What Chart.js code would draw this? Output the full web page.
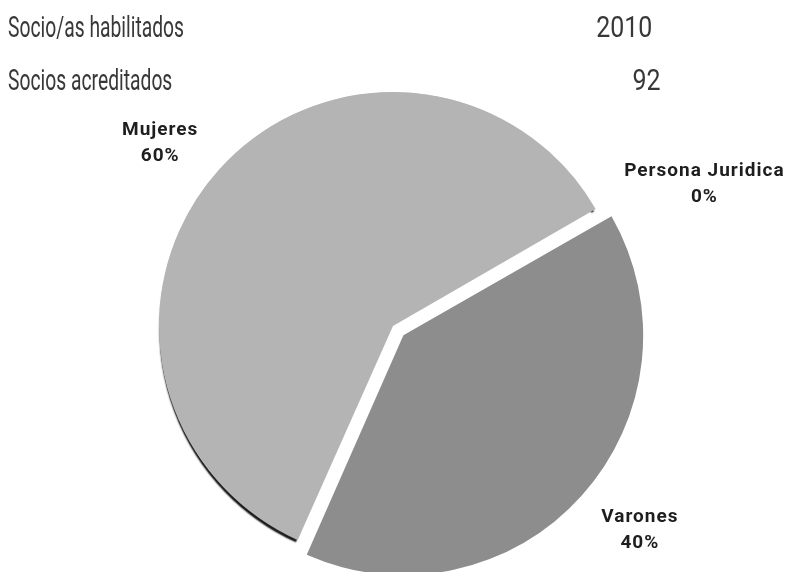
<!DOCTYPE html>
<html>
<head>
<meta charset="utf-8">
<script src="https://cdn.jsdelivr.net/npm/chart.js@4.4.1/dist/chart.umd.min.js"></script>
<style>
  html, body { margin: 0; padding: 0; background: #fff; }
  #wrap { position: relative; width: 787px; height: 572px; overflow: hidden; }
  #chart { position: absolute; left: 0; top: 0; }
  .hdr { position: absolute; font-family: Roboto, sans-serif; font-size: 29px; color: #383838;
         white-space: nowrap; transform-origin: 0 0; transform: scaleX(0.665); line-height: 1; }
  .val { transform-origin: 100% 0; transform: scaleX(0.86); }
</style>
</head>
<body>
<div id="wrap">
  <canvas id="chart" width="787" height="572"></canvas>
  <div id="hdr"></div>
</div>
<script>
const categories = ['Mujeres', 'Persona Juridica', 'Varones'];
const shares = [60, 0, 40];
const headerLabels = ['Socio/as habilitados', 'Socios acreditados'];
const headerValues = ['2010', '92'];

const C = {
  mujeres: '#b4b4b4', juridica: '#a0a0a0', varones: '#8d8d8d',
  text: '#1e1e1e', font: "Roboto, 'DejaVu Sans', sans-serif"
};

// header rows (value column is not quite aligned in the original)
const hdr = document.getElementById('hdr');
const valRight = [652, 661];
headerLabels.forEach((t, i) => {
  const top = 13 + i * 53;
  const a = document.createElement('div');
  a.className = 'hdr'; a.style.left = '8px'; a.style.top = top + 'px'; a.textContent = t;
  const b = document.createElement('div');
  b.className = 'hdr val'; b.style.right = (787 - valRight[i]) + 'px'; b.style.top = top + 'px'; b.textContent = headerValues[i];
  hdr.appendChild(a); hdr.appendChild(b);
});

// dark rim under the outer edge of each slice (fake 3d)
const pieShadow = {
  id: 'pieShadow',
  beforeDatasetsDraw(chart) {
    const c = chart.ctx;
    const meta = chart.getDatasetMeta(0);
    c.save();
    c.shadowColor = 'rgba(0,0,0,0.95)';
    c.shadowBlur = 1.5;
    c.shadowOffsetX = 0;
    c.shadowOffsetY = 4;
    c.lineWidth = 3;
    meta.data.forEach((arc, i) => {
      const p = arc.getProps(['x', 'y', 'startAngle', 'endAngle', 'outerRadius'], true);
      if (p.endAngle - p.startAngle <= 0) return;
      const mid = (p.startAngle + p.endAngle) / 2;
      const off = (arc.options.offset || 0) / 4; // same shift ArcElement uses
      const x = p.x + Math.cos(mid) * off, y = p.y + Math.sin(mid) * off;
      c.strokeStyle = arc.options.backgroundColor;
      c.beginPath();
      c.arc(x, y, p.outerRadius - 2, p.startAngle + 0.01, p.endAngle - 0.01);
      c.stroke();
    });
    c.restore();
  }
};

// outside labels: name + percent
const sliceLabels = {
  id: 'sliceLabels',
  afterDraw(chart, args, opts) {
    const c = chart.ctx;
    const meta = chart.getDatasetMeta(0);
    const data = chart.data.datasets[0].data;
    const total = data.reduce((s, v) => s + v, 0);
    c.save();
    c.fillStyle = C.text;
    c.font = 'bold 19px ' + C.font;
    c.letterSpacing = '1px';
    c.textAlign = 'center';
    c.textBaseline = 'middle';
    meta.data.forEach((arc, i) => {
      const p = arc.getProps(['x', 'y', 'startAngle', 'endAngle', 'outerRadius'], true);
      const mid = (p.startAngle + p.endAngle) / 2;
      const d = p.outerRadius * opts.distance;
      const n = opts.nudge[i];
      const x = p.x + Math.cos(mid) * d + n[0];
      const y = p.y + Math.sin(mid) * d + n[1];
      c.fillText(chart.data.labels[i], x, y - 13);
      c.fillText(Math.round(data[i] / total * 100) + '%', x, y + 13);
    });
    c.restore();
  }
};

new Chart(document.getElementById('chart').getContext('2d'), {
  type: 'pie',
  data: {
    labels: categories,
    datasets: [{
      data: shares,
      backgroundColor: [C.mujeres, C.juridica, C.varones],
      borderWidth: 0,
      offset: [0, 0, 56],
      hoverOffset: 0
    }]
  },
  options: {
    responsive: false,
    animation: false,
    events: [],
    rotation: 204,
    radius: 234,
    layout: { padding: { left: 151, top: 84, right: 152, bottom: 4 } },
    plugins: {
      legend: { display: false },
      tooltip: { enabled: false },
      sliceLabels: { distance: 1.27, nudge: [[-12, 16], [54, 7], [26, 5]] }
    }
  },
  plugins: [pieShadow, sliceLabels]
});
</script>
</body>
</html>
